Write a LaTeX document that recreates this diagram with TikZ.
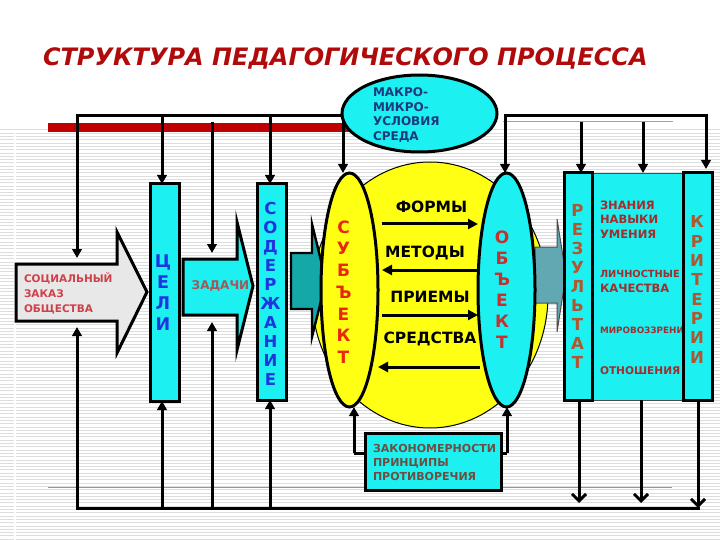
\documentclass[tikz,border=0pt]{standalone}
\usepackage{fontspec}
\setmainfont{DejaVu Sans}
\usetikzlibrary{arrows.meta,shapes.geometric,calc}
\definecolor{cy}{HTML}{1CF0F0}
\definecolor{tred}{HTML}{B00A0A}
\definecolor{redbar}{HTML}{C00000}
\definecolor{vblue}{HTML}{1F35E0}
\definecolor{mblue}{HTML}{1C3A7E}
\definecolor{subjred}{HTML}{E8280A}
\definecolor{objred}{HTML}{C83030}
\definecolor{rezbrown}{HTML}{B4552D}
\definecolor{midred}{HTML}{A32D2D}
\definecolor{socred}{HTML}{D0404A}
\definecolor{zadtext}{HTML}{A05858}
\definecolor{zaktext}{HTML}{6E4E40}
\definecolor{tealA}{HTML}{14A8A8}
\definecolor{tealB}{HTML}{62A8B2}
\definecolor{yel}{HTML}{FFFF14}
\definecolor{socgray}{HTML}{E8E8E8}
\definecolor{stripecol}{HTML}{DDDDDD}
\definecolor{thinred}{HTML}{C89090}
\begin{document}
\begin{tikzpicture}[x=1pt,y=-1pt,
  every node/.style={inner sep=0pt,outer sep=0pt},
  ln/.style={line width=3pt,draw=black},
  bus/.style={ln,line cap=rect},
  arr/.style={ln,-{Triangle[length=9pt,width=9.5pt]}},
  arrb/.style={ln,-{Triangle[length=10pt,width=10pt]}},
  varr/.style={ln,-{Straight Barb[length=7pt,width=14pt]}},
  box/.style={rectangle,draw=black,line width=3pt,fill=cy},
  oval/.style={ellipse,draw=black,line width=3pt},
  stack/.style={align=center,font=\bfseries\fontsize{16.5}{19}\selectfont},
  small/.style={anchor=west,align=left},
]
\useasboundingbox (0,0) rectangle (720,540);
\fill[white] (0,0) rectangle (720,540);
% striped background
\foreach \k in {0,...,124}{\draw[stripecol,line width=1pt] (0,{130+3.3*\k}) -- (720,{130+3.3*\k});}
\draw[white,line width=1.5pt] (15,130) -- (15,540);
\draw[thinred!70!gray,line width=0.8pt] (48,487) -- (672,487);
\draw[thinred,line width=1pt] (503,122) -- (673,122);
% title
\node[anchor=base west,text=tred,font=\bfseries\itshape\fontsize{24}{28}\selectfont] (title) at (43,66) {СТРУКТУРА ПЕДАГОГИЧЕСКОГО ПРОЦЕССА};
% red bar
\fill[redbar] (48,123) rectangle (350,132);

% ---- main shapes (bodies used as anchors) ----
\node[minimum width=101pt,minimum height=57pt] (socb) at (66.5,292.5) {};
\node[minimum width=54pt,minimum height=56pt] (zadb) at (210,287) {};

% big yellow oval
\node[ellipse,draw=black,line width=1pt,fill=yel,minimum width=236pt,minimum height=266pt] (yc) at (430,295) {};

% block arrows
\draw[line width=3pt,fill=socgray] (16,264) -- (117,264) -- (117,232) -- (147,292) -- (117,353) -- (117,321) -- (16,321) -- cycle;
\draw[line width=3pt,fill=cy] (183,259) -- (237,259) -- (237,222) -- (253,286) -- (237,350) -- (237,315) -- (183,315) -- cycle;
\draw[line width=2.4pt,fill=tealA] (291,253) -- (312,253) -- (312,224) -- (326,281) -- (312,337) -- (312,309) -- (291,309) -- cycle;
\draw[line width=1pt,draw=gray!60!black,fill=tealB] (535,247) -- (557,247) -- (557,219) -- (566,275) -- (557,332) -- (557,303) -- (535,303) -- cycle;

% boxes
\node[box,minimum width=29pt,minimum height=217pt] (celi) at (164.5,292.5) {};
\node[box,minimum width=29pt,minimum height=216pt] (sod) at (271.5,292) {};
\node[oval,fill=yel,minimum width=57pt,minimum height=234pt] (subj) at (349.5,290) {};
\node[oval,fill=cy,minimum width=57pt,minimum height=234pt] (obj) at (506.5,290) {};
\node[rectangle,draw=black!70,line width=0.8pt,fill=cy,minimum width=91pt,minimum height=227pt] (mid) at (637.5,286.5) {};
\node[box,minimum width=28pt,minimum height=227pt] (rez) at (578,286.5) {};

% texts in middle box
\node[small,text=midred,font=\bfseries\fontsize{11.5}{14.5}\selectfont] (t1) at (600,219.5) {ЗНАНИЯ\\НАВЫКИ\\УМЕНИЯ};
\node[small,text=midred,font=\bfseries\fontsize{9.8}{12}\selectfont] (t2) at (600,274) {ЛИЧНОСТНЫЕ};
\node[small,text=midred,font=\bfseries\fontsize{11.5}{14}\selectfont] (t3) at (600,288.5) {КАЧЕСТВА};
\node[small,text=midred,font=\bfseries\fontsize{8.8}{11}\selectfont] (t4) at (600,330) {МИРОВОЗЗРЕНИ};
\node[small,text=midred,font=\bfseries\fontsize{10.6}{13}\selectfont] (t5) at (600,371) {ОТНОШЕНИЯ};

\node[box,minimum width=29pt,minimum height=227pt] (krit) at (697.5,286.5) {};

% vertical letter stacks
\node[stack,text=vblue,font=\bfseries\fontsize{17.5}{21}\selectfont] (celit) at (163,293) {Ц\\Е\\Л\\И};
\node[stack,text=vblue] (sodt) at (270.5,294) {С\\О\\Д\\Е\\Р\\Ж\\А\\Н\\И\\Е};
\node[stack,text=subjred,font=\bfseries\fontsize{17}{21.7}\selectfont] (subjt) at (343.5,292) {С\\У\\Б\\Ъ\\Е\\К\\Т};
\node[stack,text=objred,font=\bfseries\fontsize{17}{21}\selectfont] (objt) at (502,290) {О\\Б\\Ъ\\Е\\К\\Т};
\node[stack,text=rezbrown] (rezt) at (577.5,286.5) {Р\\Е\\З\\У\\Л\\Ь\\Т\\А\\Т};
\node[stack,text=rezbrown,font=\bfseries\fontsize{16.5}{19.3}\selectfont] (kritt) at (697,289.5) {К\\Р\\И\\Т\\Е\\Р\\И\\И};

% texts of block arrows
\node[small,text=socred,font=\bfseries\fontsize{10.5}{15}\selectfont] (soct) at (24,293) {СОЦИАЛЬНЫЙ\\ЗАКАЗ\\ОБЩЕСТВА};
\node[text=zadtext,font=\bfseries\fontsize{12}{14}\selectfont] (zadt) at (220.5,286) {ЗАДАЧИ};

% labels in yellow oval
\node[font=\bfseries\fontsize{15.5}{18}\selectfont] (forms) at (431.5,206.5) {ФОРМЫ};
\node[font=\bfseries\fontsize{15.5}{18}\selectfont] (meth) at (425,252.5) {МЕТОДЫ};
\node[font=\bfseries\fontsize{15.5}{18}\selectfont] (prie) at (430,297) {ПРИЕМЫ};
\node[font=\bfseries\fontsize{15.5}{18}\selectfont] (sred) at (430,338.5) {СРЕДСТВА};
\draw[arrb] ($(subj.east |- 0,224)+(4,0)$) -- (obj.west |- 0,224);
\draw[arrb] (obj.west |- 0,270) -- ($(subj.east |- 0,270)+(4,0)$);
\draw[arrb] ($(subj.east |- 0,315)+(4,0)$) -- (obj.west |- 0,315);
\draw[arrb] ($(obj.west |- 0,367)+(2,0)$) -- (subj.east |- 0,367);

% ---- top connectors ----
\coordinate (d1) at (77,116);
\coordinate (d2) at (162,116);
\coordinate (d3) at (212,122);
\coordinate (d4) at (270,116);
\coordinate (d5) at (343,116);
\coordinate (d6) at (505,116);
\coordinate (d7) at (581,122);
\coordinate (d8) at (643,122);
\coordinate (d9) at (706,116);
\draw[bus] (d1) -- (d5);
\draw[bus] (d6) -- (d9);
\draw[arr] (d1) -- ($(d1 |- socb.north)+(0,-6)$);
\draw[arr] (d2) -- (d2 |- celi.north);
\draw[arr] (d3) -- ($(d3 |- zadb.north)+(0,-6)$);
\draw[arr] (d4) -- (d4 |- sod.north);
\draw[arr] (d5) -- (d5 |- subj.north);
\draw[arr] (d6) -- (d6 |- obj.north);
\draw[arr] (d7) -- (d7 |- rez.north);
\draw[arr] (d8) -- (d8 |- mid.north);
\draw[arr] (d9) -- ($(d9 |- krit.north)+(0,-4)$);

% macro ellipse
\node[oval,fill=cy,minimum width=155pt,minimum height=77pt] (macro) at (419.5,113.5) {};
\node[small,text=mblue,font=\bfseries\fontsize{12}{14.7}\selectfont] (macrot) at (373,115) {МАКРО-\\МИКРО-\\УСЛОВИЯ\\СРЕДА};

% ---- bottom connectors ----
\coordinate (u1) at (77,508);
\coordinate (u2) at (162,508);
\coordinate (u3) at (212,508);
\coordinate (u4) at (270,508);
\coordinate (u9) at (698,508);
\coordinate (r1) at (579,503);
\coordinate (r2) at (641,503);
\draw[bus] (u1) -- (u9);
\draw[arr] (u1) -- ($(u1 |- socb.south)+(0,6)$);
\draw[arr] (u2) -- (u2 |- celi.south);
\draw[arr] (u3) -- ($(u3 |- zadb.south)+(0,7)$);
\draw[arr] (u4) -- (u4 |- sod.south);
\draw[varr] (r1 |- rez.south) -- (r1);
\draw[varr] (r2 |- mid.south) -- (r2);
\draw[varr] ($(u9 |- krit.south)+(0,2)$) -- (u9);

% laws box with arrows to subject / object
\coordinate (z1) at (354,453);
\coordinate (z2) at (507,453);
\draw[ln] (z1) -- (z2);
\draw[arr] (z1) -- (z1 |- subj.south);
\draw[arr] (z2) -- (z2 |- obj.south);
\node[box,minimum width=136pt,minimum height=57pt] (zak) at (433,461.5) {};
\node[small,text=zaktext,font=\bfseries\fontsize{11}{14}\selectfont] (zakt) at (373,462) {ЗАКОНОМЕРНОСТИ\\ПРИНЦИПЫ\\ПРОТИВОРЕЧИЯ};
\end{tikzpicture}
\end{document}
